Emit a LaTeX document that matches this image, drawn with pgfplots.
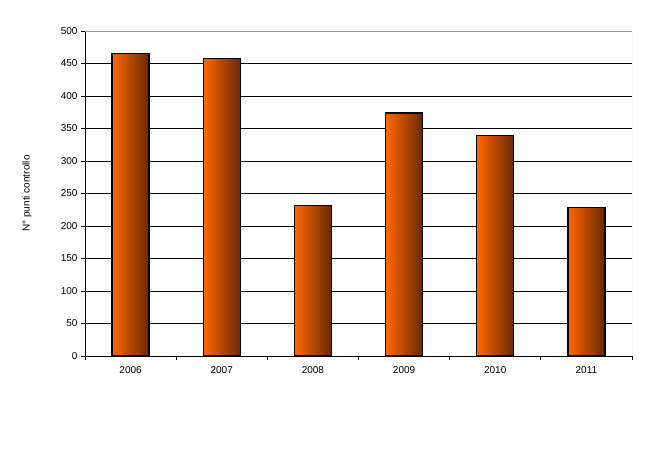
\documentclass[border=0pt]{standalone}
\usepackage{fontspec}
\setmainfont{Liberation Sans}
\usepackage{pgfplots}
\pgfplotsset{compat=1.18}
\definecolor{aranc}{RGB}{255,104,0}
\definecolor{arancmedio}{RGB}{232,90,0}
\definecolor{marrone}{RGB}{105,40,4}
\definecolor{cornice}{RGB}{150,150,150}
\tikzset{barra/.style={draw=black, line width=1.2pt, left color=aranc, middle color=arancmedio, right color=marrone}}
\begin{document}
\begin{tikzpicture}
\path[use as bounding box] (0,0) rectangle (650pt,453pt);
\begin{axis}[
  at={(85pt,97pt)}, anchor=south west,
  scale only axis, width=547pt, height=325pt,
  xmin=-0.5, xmax=5.5, ymin=0, ymax=500,
  xtick={-0.5,0.5,...,5.5}, xticklabels={},
  extra x ticks={0,...,5},
  extra x tick labels={2006,2007,2008,2009,2010,2011},
  extra x tick style={major tick length=0pt, xticklabel style={yshift=-7pt}},
  ytick={0,50,...,500},
  axis x line*=bottom, axis y line*=left,
  axis line style={black, line width=0.8pt, -},
  tick align=outside,
  major tick length=4pt,
  every tick/.style={black, line width=0.8pt},
  ymajorgrids, grid style={black, line width=0.8pt},
  tick label style={font=\fontsize{10}{12}\selectfont},
  /pgf/number format/assume math mode=true,
  every axis y label/.style={at={(axis description cs:-0.106,0.5)}, rotate=90, anchor=center, font=\fontsize{10}{12}\selectfont},
  ylabel={N° punti controllo},
  ybar, bar width=37pt, bar shift=0pt,
]
\addplot[barra] coordinates {(0,466)};
\addplot[barra] coordinates {(1,458)};
\addplot[barra] coordinates {(2,231)};
\addplot[barra] coordinates {(3,374)};
\addplot[barra] coordinates {(4,339)};
\addplot[barra] coordinates {(5,229)};
\draw[cornice, line width=0.8pt] (rel axis cs:0,1) -- (rel axis cs:1,1) -- (rel axis cs:1,0);
\end{axis}
\end{tikzpicture}
\end{document}
